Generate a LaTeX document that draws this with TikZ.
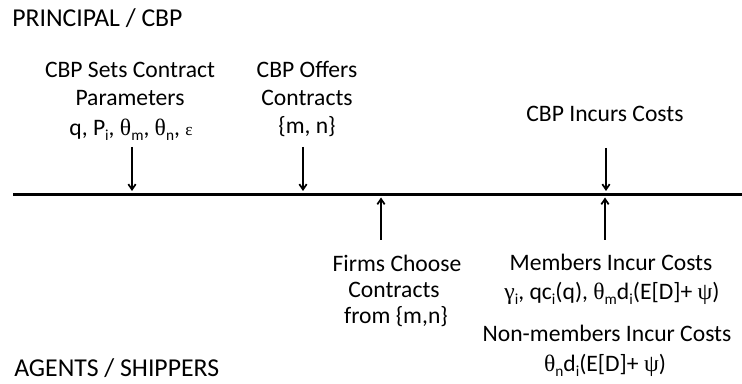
\documentclass[tikz,border=0pt]{standalone}
\usepackage{fontspec}
\setmainfont{Carlito}
\newfontfamily\gkfont{Liberation Serif}
\usetikzlibrary{arrows.meta}
\newcommand{\sbs}[1]{\raisebox{-0.4ex}{\fontsize{11.5}{12}\selectfont #1}}
\newcommand{\gk}[1]{{\gkfont #1}}
\begin{document}
\begin{tikzpicture}[x=0.75pt,y=-0.75pt,
  lbl/.style={inner sep=0pt, anchor=base, font=\fontsize{17.7}{20}\selectfont},
  hdr/.style={inner sep=0pt, anchor=base west, font=\fontsize{19.3}{22}\selectfont},
  arr/.style={line width=1.1pt, -{Straight Barb[length=4pt,width=5.5pt,line width=1.3pt]}},
  timeline/.style={line width=1.6pt}]
\useasboundingbox (0,0) rectangle (742,384);
% timeline
\coordinate (tl0) at (13,194.5);
\coordinate (tl1) at (742,194.5);
\draw[timeline] (tl0) -- (tl1);
% headers
\node[hdr] (prin) at (12,27) {PRINCIPAL / CBP};
\node[hdr] (agents) at (14,377) {AGENTS / SHIPPERS};
% CBP sets contract parameters
\node[lbl] (s1) at (130,78) {CBP Sets Contract};
\node[lbl] (s2) at (130,106) {Parameters};
\node[lbl] (s3) at (131,136) {q, P\sbs{i}, \gk{θ}\sbs{m}, \gk{θ}\sbs{n}, {\gkfont\fontsize{13}{14}\selectfont ε}};
% CBP offers contracts
\node[lbl] (o1) at (307,78) {CBP Offers};
\node[lbl] (o2) at (307,106) {Contracts};
\node[lbl] (o3) at (307,134) {\{m, n\}};
% CBP incurs costs
\node[lbl] (c1) at (605,122) {CBP Incurs Costs};
% firms choose
\node[lbl] (f1) at (397,272) {Firms Choose};
\node[lbl] (f2) at (394,298) {Contracts};
\node[lbl] (f3) at (396,324) {from \{m,n\}};
% members / non-members
\node[lbl] (m1) at (611,271) {Members Incur Costs};
\node[lbl] (m2) at (612,300) {\gk{γ}\sbs{i}, qc\sbs{i}(q), \gk{θ}\sbs{m}d\sbs{i}(E[D]+ \gk{ψ})};
\node[lbl] (n1) at (607,342) {Non-members Incur Costs};
\node[lbl] (n2) at (605,372) {\gk{θ}\sbs{n}d\sbs{i}(E[D]+ \gk{ψ})};
% arrow end points
\coordinate (d1a) at (132,147);   \coordinate (d1b) at (132,191);
\coordinate (d2a) at (303,147);   \coordinate (d2b) at (303,191);
\coordinate (d3a) at (606,148);   \coordinate (d3b) at (606,191);
\coordinate (u1a) at (381,240);   \coordinate (u1b) at (381,197.5);
\coordinate (u2a) at (605,240);   \coordinate (u2b) at (605,197.5);
\draw[arr] (d1a) -- (d1b);
\draw[arr] (d2a) -- (d2b);
\draw[arr] (d3a) -- (d3b);
\draw[arr] (u1a) -- (u1b);
\draw[arr] (u2a) -- (u2b);
\end{tikzpicture}
\end{document}
